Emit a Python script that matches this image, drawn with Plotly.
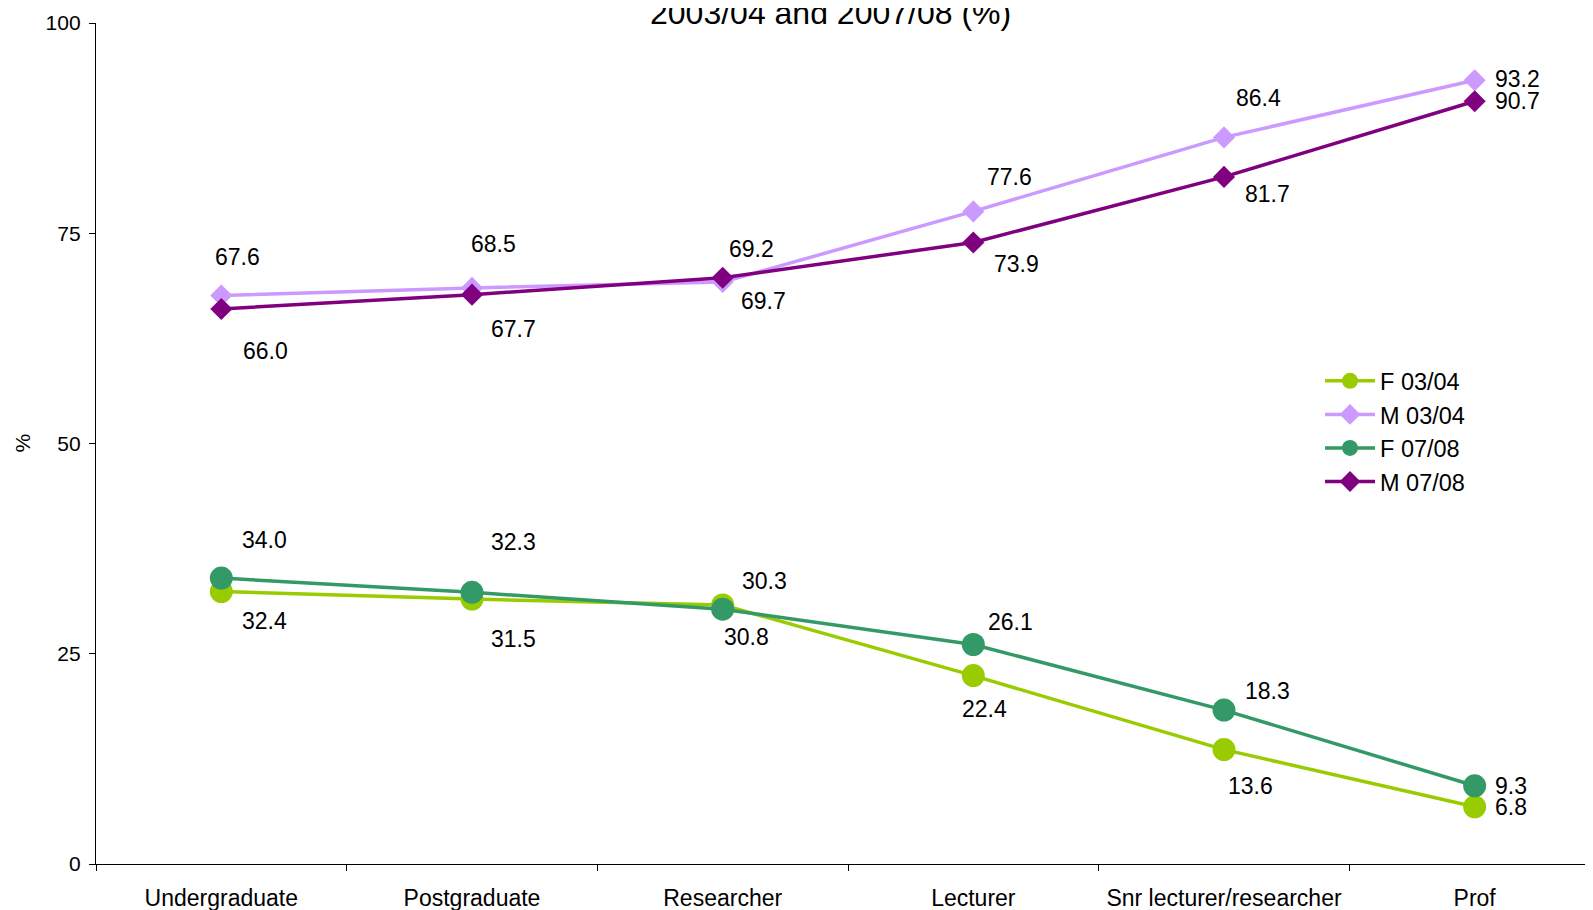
import plotly.graph_objects as go

categories = ["Undergraduate", "Postgraduate", "Researcher", "Lecturer",
              "Snr lecturer/researcher", "Prof"]
f_0304 = [32.4, 31.5, 30.8, 22.4, 13.6, 6.8]
m_0304 = [67.6, 68.5, 69.2, 77.6, 86.4, 93.2]
f_0708 = [34.0, 32.3, 30.3, 26.1, 18.3, 9.3]
m_0708 = [66.0, 67.7, 69.7, 73.9, 81.7, 90.7]
y_ticks = [0, 25, 50, 75, 100]

FONT = "Liberation Sans, Arial, sans-serif"

series = [
    ("F 03/04", f_0304, "#99CC00", "circle", 23),
    ("M 03/04", m_0304, "#CC99FF", "diamond", 17),
    ("F 07/08", f_0708, "#339966", "circle", 23),
    ("M 07/08", m_0708, "#800080", "diamond", 17),
]

# label offsets in pixels (dx, dy up), last point labelled to the right
S = 1.016
label_offsets = {
    "M 03/04": [(16, 38), (21, 43), (28, 33), (36, 34), (34, 39), None],
    "M 07/08": [(43, -41), (41, -34), (40, -23), (42, -21), (43, -17), None],
    "F 07/08": [(42, 37), (41, 50), (41, 28), (37, 22), (43, 19), None],
    "F 03/04": [(42, -29), (41, -39), (23, -32), (11, -33), (26, -36), None],
}
right_dy = {"M 03/04": 1, "M 07/08": 0, "F 07/08": 0, "F 03/04": 0}

LBL = 23
fig = go.Figure()
annotations = []
for i, (name, vals, color, sym, size) in enumerate(series):
    fig.add_trace(go.Scatter(
        x=categories, y=vals, name=name, mode="lines+markers",
        line=dict(color=color, width=3.5),
        marker=dict(color=color, symbol=sym, size=size, line=dict(width=0)),
        legendgroup=f"g{i}",
    ))
    for j, v in enumerate(vals):
        off = label_offsets[name][j]
        if off is None:
            annotations.append(dict(
                x=categories[j], y=v, xref="x", yref="y", text=f"{v:.1f}",
                showarrow=False, xanchor="left", yanchor="middle",
                xshift=18, yshift=right_dy[name],
                font=dict(family=FONT, size=LBL, color="black")))
        else:
            annotations.append(dict(
                x=categories[j], y=v, xref="x", yref="y", text=f"{v:.1f}",
                showarrow=False, xanchor="center", yanchor="middle",
                xshift=off[0] * S, yshift=off[1] * S,
                font=dict(family=FONT, size=LBL, color="black")))

L, T, R, B = 88, 14.7, 1, 53.7
PW = 1593 - L - R
PH = 910 - T - B

# y-axis title
annotations.append(dict(
    x=-74 / PW, y=0.5, xref="paper", yref="paper", text="%",
    textangle=-90, showarrow=False, xanchor="center", yanchor="middle",
    font=dict(family=FONT, size=21, color="black")))
# chart title (visible part)
annotations.append(dict(
    x=(822 - L) / PW, y=1 - (25 - T) / PH, xref="paper", yref="paper",
    text="2003/04 and 2007/08 (%)", showarrow=False,
    xanchor="center", yanchor="bottom",
    font=dict(family=FONT, size=32, color="black")))

fig.update_layout(
    width=1593, height=910,
    margin=dict(l=L, r=R, t=T, b=B, pad=0),
    plot_bgcolor="white", paper_bgcolor="white",
    font=dict(family=FONT, size=20, color="black"),
    showlegend=True,
    legend=dict(x=(1320 - L - 8) / PW, y=1 - (359 - T - 8) / PH,
                xanchor="left", yanchor="top",
                font=dict(family=FONT, size=23.5, color="black"),
                bgcolor="rgba(0,0,0,0)", tracegroupgap=0, itemwidth=50),
    annotations=annotations,
    xaxis=dict(
        type="category", range=[-0.5, 5.5],
        showline=True, linecolor="black", linewidth=1.3,
        ticks="outside", tickson="boundaries", ticklen=6, tickcolor="black",
        showgrid=False, zeroline=False,
        tickfont=dict(family=FONT, size=23, color="black"),
        ticklabelstandoff=13,
    ),
    yaxis=dict(
        range=[0, 100], tickvals=y_ticks,
        showline=True, linecolor="black", linewidth=1.3,
        ticks="outside", ticklen=6, tickcolor="black",
        showgrid=False, zeroline=False,
        tickfont=dict(family=FONT, size=21, color="black"),
        ticklabelstandoff=4,
    ),
)

fig.write_html("out.html")
